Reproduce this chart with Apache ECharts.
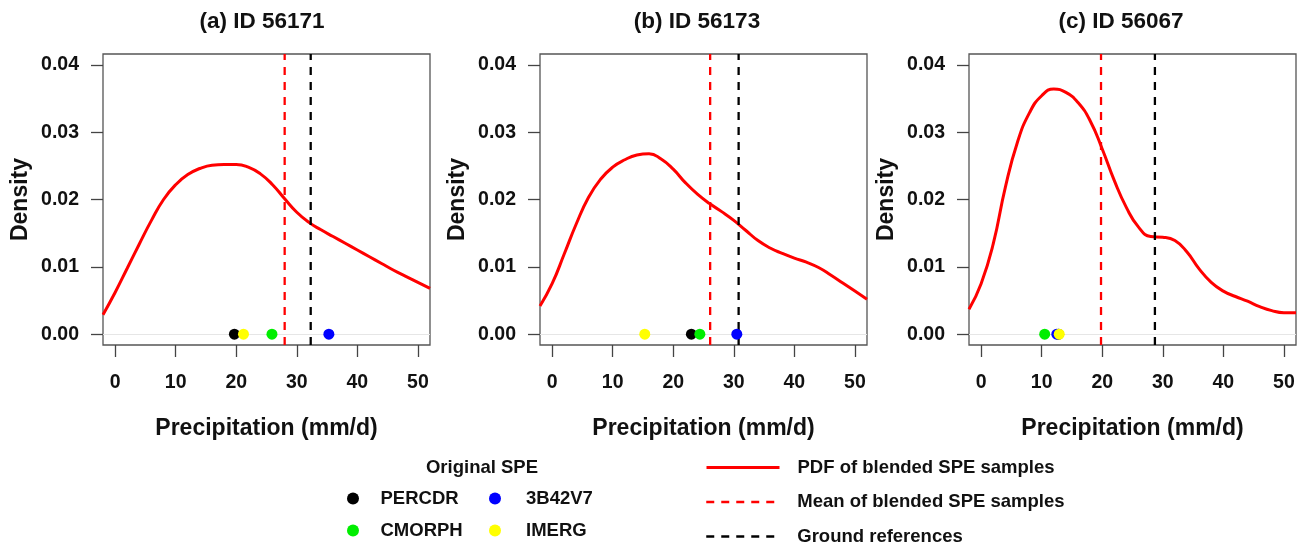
<!DOCTYPE html>
<html>
<head>
<meta charset="utf-8">
<script src="https://cdn.jsdelivr.net/npm/echarts@6/dist/echarts.min.js"></script>
<style>
html,body{margin:0;padding:0;background:#fff;}
#chart{width:1303px;height:549px;}
</style>
</head>
<body>
<div id="chart"></div>
<script>
// ---------------- data ----------------
const panelTitles = ['(a) ID 56171', '(b) ID 56173', '(c) ID 56067'];
const xGrid = [-2, 0, 2, 4, 6, 8, 10, 12, 14, 16, 18, 20, 22, 24, 26, 28, 30, 32, 34, 36, 38, 40, 42, 44, 46, 48, 50, 52];
const pdfA = [0.0029, 0.0062, 0.0098, 0.0134, 0.0169, 0.0200, 0.0222, 0.0237, 0.0246, 0.0251, 0.0252, 0.0252, 0.0248, 0.0238,
              0.0222, 0.0201, 0.0181, 0.0166, 0.0155, 0.0145, 0.0135, 0.0125, 0.0115, 0.0105, 0.0095, 0.0086, 0.0077, 0.0068];
const pdfB = [0.0042, 0.0075, 0.0119, 0.0164, 0.0203, 0.0230, 0.0248, 0.0259, 0.0266, 0.0268, 0.0260, 0.0245, 0.0225, 0.0208,
              0.0194, 0.0182, 0.0169, 0.0154, 0.0139, 0.0128, 0.0120, 0.0113, 0.0107, 0.0099, 0.0088, 0.0076, 0.0064, 0.0052];
const pdfC = [0.0037, 0.0075, 0.0134, 0.0218, 0.0285, 0.0329, 0.0354, 0.0364, 0.0359, 0.0344, 0.0317, 0.0275, 0.0228, 0.0188,
              0.0159, 0.0145, 0.0144, 0.0139, 0.0122, 0.0097, 0.0077, 0.0064, 0.0056, 0.0049, 0.0041, 0.0035, 0.0032, 0.0032];
const meanValues   = [28.0, 26.1, 19.8];   // Mean of blended SPE samples
const groundValues = [32.3, 30.8, 28.7];   // Ground references
const percdr = [19.7, 23.0, 12.8];
const cmorph = [25.9, 24.4, 10.5];
const b42v7  = [35.3, 30.5, 12.5];
const imerg  = [21.2, 15.3, 12.9];
const xTicks = [0, 10, 20, 30, 40, 50];
const yTicks = [0, 0.01, 0.02, 0.03, 0.04];
const xMin = -2, xMax = 52, yMin = -0.0016, yMax = 0.0416;

const pdfs = [pdfA, pdfB, pdfC];
const NAME_PDF = 'PDF of blended SPE samples';
const NAME_MEAN = 'Mean of blended SPE samples';
const NAME_GROUND = 'Ground references';
const spe = [
  {name: 'PERCDR', values: percdr, color: '#000000'},
  {name: 'CMORPH', values: cmorph, color: '#00ee00'},
  {name: '3B42V7', values: b42v7, color: '#0000ff'},
  {name: 'IMERG',  values: imerg,  color: '#ffff00'}
];

// ---------------- layout ----------------
const FONT = 'Liberation Sans';
const TXT = '#111';
const gridLefts = [103, 540, 969];
const titleCenters = [262, 697, 1121];
const bold = (size) => ({fontFamily: FONT, fontWeight: 'bold', fontSize: size, color: TXT});

const grids = gridLefts.map(l => ({
  left: l, top: 54, width: 327, height: 291,
  show: true, borderColor: '#555', borderWidth: 1.3, backgroundColor: 'transparent'
}));

const xAxes = gridLefts.map((_, i) => ({
  type: 'value', gridIndex: i, min: xMin, max: xMax,
  name: 'Precipitation (mm/d)', nameLocation: 'middle', nameGap: 72,
  nameTextStyle: bold(23),
  axisLine: {show: false, onZero: false},
  axisTick: {show: true, inside: false, length: 12, customValues: xTicks, lineStyle: {color: '#444', width: 1.3}},
  axisLabel: {customValues: xTicks, margin: 28, ...bold(19.5)},
  splitLine: {show: false}
}));

const yAxes = gridLefts.map((_, i) => ({
  type: 'value', gridIndex: i, min: yMin, max: yMax,
  name: 'Density', nameLocation: 'middle', nameGap: 71,
  nameTextStyle: bold(23),
  axisLine: {show: false, onZero: false},
  axisTick: {show: true, inside: false, length: 12, customValues: yTicks, lineStyle: {color: '#444', width: 1.3}},
  axisLabel: {customValues: yTicks, margin: 24, formatter: v => v.toFixed(2), ...bold(19.5)},
  splitLine: {show: false}
}));

const series = [];
pdfs.forEach((pdf, i) => {
  series.push({
    type: 'line', name: NAME_PDF, xAxisIndex: i, yAxisIndex: i,
    data: xGrid.map((x, k) => [x, pdf[k]]),
    smooth: 0.5, symbol: 'none', showSymbol: false,
    lineStyle: {color: '#ff0000', width: 3}, itemStyle: {color: '#ff0000'},
    z: 3,
    markLine: {
      silent: true, symbol: 'none', label: {show: false},
      lineStyle: {color: '#e6e6e6', width: 1, type: 'solid'},
      data: [{yAxis: 0}], z: 1
    }
  });
  series.push({
    type: 'line', name: NAME_MEAN, xAxisIndex: i, yAxisIndex: i,
    data: [[meanValues[i], yMin], [meanValues[i], yMax]],
    symbol: 'none', showSymbol: false,
    lineStyle: {color: '#ff0000', width: 2.3, type: [8, 7]}, itemStyle: {color: '#ff0000'}, z: 4
  });
  series.push({
    type: 'line', name: NAME_GROUND, xAxisIndex: i, yAxisIndex: i,
    data: [[groundValues[i], yMin], [groundValues[i], yMax]],
    symbol: 'none', showSymbol: false,
    lineStyle: {color: '#000000', width: 2.3, type: [8, 7]}, itemStyle: {color: '#000000'}, z: 4
  });
  spe.forEach(s => {
    series.push({
      type: 'scatter', name: s.name, xAxisIndex: i, yAxisIndex: i,
      data: [[s.values[i], 0]], symbol: 'circle', symbolSize: 11,
      itemStyle: {color: s.color, opacity: 1}, z: 5
    });
  });
});

const legTxt = bold(18.5);
const dotLegend = (name, left, top, w) => ({
  data: [name], left: left, top: top, padding: 0, selectedMode: false,
  icon: 'circle', itemWidth: w, itemHeight: 12, textStyle: legTxt
});
const lineLegend = (name, top, width) => ({
  data: [name], left: 705, top: top, padding: 0, selectedMode: false,
  itemWidth: 73, itemHeight: 14,
  itemStyle: {color: 'rgba(0,0,0,0)', borderColor: 'rgba(0,0,0,0)', borderWidth: 0, opacity: 0},
  lineStyle: {width: width, type: 'inherit'},
  textStyle: {...legTxt, padding: [0, 0, 0, 13]}
});

const option = {
  animation: false,
  backgroundColor: '#fff',
  title: [
    ...panelTitles.map((t, i) => ({
      text: t, left: titleCenters[i], top: 10, textAlign: 'center', padding: 0,
      textStyle: bold(22.5)
    })),
    {text: 'Original SPE', left: 482, top: 458, textAlign: 'center', padding: 0, textStyle: legTxt}
  ],
  grid: grids,
  xAxis: xAxes,
  yAxis: yAxes,
  legend: [
    dotLegend('PERCDR', 347, 489, 45),
    dotLegend('CMORPH', 347, 521, 45),
    dotLegend('3B42V7', 489, 489, 52),
    dotLegend('IMERG', 489, 521, 52),
    lineLegend(NAME_PDF, 458, 3),
    lineLegend(NAME_MEAN, 492.5, 2.5),
    lineLegend(NAME_GROUND, 527, 2.5)
  ],
  series: series
};

const chart = echarts.init(document.getElementById('chart'), null, {renderer: 'canvas'});
chart.setOption(option);
</script>
</body>
</html>
